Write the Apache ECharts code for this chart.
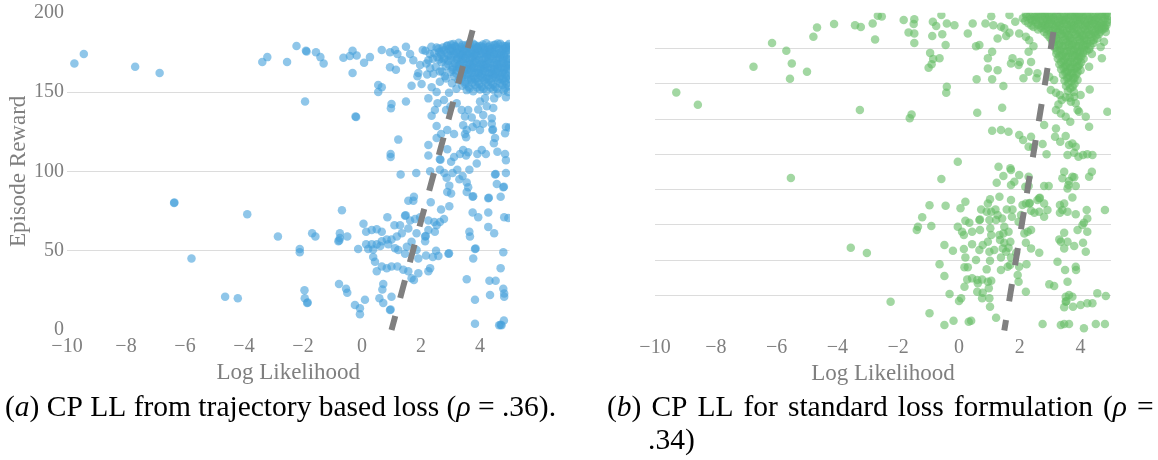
<!DOCTYPE html>
<html>
<head>
<meta charset="utf-8">
<script src="https://cdn.jsdelivr.net/npm/echarts@6/dist/echarts.min.js"></script>
<style>
html,body{margin:0;padding:0;background:#fff;}
#c{width:1158px;height:460px;}
</style>
</head>
<body>
<div id="c"></div>
<script>
// ---------- axis settings ----------
const xRange = [-10, 5];
const xStep = 2;
const leftYRange = [0, 200];
const leftYStep = 50;
const rightYRange = [0, 180];
const rightYStep = 20;
const xAxisTitle = 'Log Likelihood';
const yAxisTitle = 'Episode Reward';
const captionA = '({i|a}) CP LL from trajectory based loss ({i|ρ} = .36).';
const captionBWords = ['({i|b})', 'CP', 'LL', 'for', 'standard', 'loss', 'formulation', '({i|ρ}', '='];
const captionBLine2 = '.34)';

// ---------- (a) trajectory based loss: [log likelihood, episode reward] ----------
const trajOutliers = [
[-9.75,168],[-9.43,174],[-7.69,166],[-6.86,162],[-3.38,169],[-3.21,172],[-2.54,169],[-2.22,179],[-1.9,176],[-1.88,175.6],[-1.56,175],[-1.41,172],[-1.3,168],[-1.93,144],
[-6.37,80],[-6.36,80.3],[-5.78,45],[-4.64,21],[-4.21,20],[-3.89,73],[-2.85,59],[-2.11,51],[-2.11,49],[-1.95,25],[-1.94,20],[-1.86,17],[-1.84,17.4],[-1.69,61],[-1.58,59],[-0.8,56],[-0.77,56.4],[-0.78,29],[-0.68,75.5]
];
const trajUpper = [
[-0.63,171.6],[-0.41,172.7],[-0.32,176],[-0.18,173],[0.07,168.5],[0.27,172],[-0.32,162],[0.67,176.5],[0.95,175],[1.12,176.5],[1.2,174],[1.49,178.6],[1.35,170],[1.63,174],[1.74,170],[0.95,165.6],[1.15,164],[0.55,154.4],[0.67,153],[0.55,150],[1.49,144],[1.68,154],[2.02,155],[1.91,162],[1.88,160],[2.21,161],[2.31,165],[1.97,167],[2.25,170],[2.06,176.5],[2.3,174],[2.53,178],[2.7,175.5],[2.87,179],[2.36,153],[2.53,150],[2.25,146],[2.56,143],[2.78,145],[2.64,156.5],[2.81,160],[2.64,163],[2.47,138.7],[2.36,135],[2.53,128.6],[2.68,123.5],[2.89,126],[3.12,123.5],[2.85,138.7],[3.0,140.8],[3.21,143],[3.38,138.7],[3.49,134.5],[3.72,134],[3.6,138.7],[3.94,139],[4.0,144],[4.17,146],[4.23,141],[4.11,135.5],[4.4,133.4],[4.4,130],[4.45,140],[4.48,146],[4.88,146.7],[3.43,129],[3.55,126],[3.49,123.5],[3.53,121.5],[3.75,128],[3.89,130],[4.0,126],[4.11,130],[4.42,126],[4.44,126.4],[4.51,121],[4.47,117.7],[4.88,128],[4.85,124],[4.98,127.6],[2.53,121],[2.25,116.6],[2.25,110],[2.64,107.6],[2.66,107.3],[2.89,114],[3.12,109],[3.32,111],[3.53,110],[3.43,113.5],[3.6,112],[3.91,111],[4.06,113.5],[4.2,111],[4.59,112.4],[4.85,111],[4.88,107],[3.64,101],[3.89,105],[2.64,101],[3.23,101],[3.02,106],[1.0,142.5],[1.23,120],[0.97,111],[0.97,109],[-0.22,134.5],[-0.2,134.2],[0.98,139.7],
[2.15,176],[2.35,178.5],[2.45,174.5],[2.6,177.5],[2.4,171],[2.62,170.5],[2.18,168],[2.5,166],[2.72,163],[2.42,161.5],[2.85,158.5],[3.05,155.5],[3.2,152],[2.95,149.5],[4.62,149],[4.8,151],[4.95,150]
];
const trajLower = [
[1.31,98],[1.84,99],[2.31,100],[2.79,99],[2.87,96],[3.07,99],[3.3,95],[3.41,97],[3.55,93],[3.6,90],[2.96,91],[2.89,87],[3.02,86],[3.55,87],[3.75,84],[3.77,84.3],[4.28,83],[4.3,83.3],[4.51,98],[4.53,98.3],[4.88,99],[4.57,92],[4.79,90],[4.81,90.3],[4.7,84],[3.75,74],[3.94,71],[4.28,74],[4.82,71],[4.28,65],[4.48,61],[3.64,62],[3.66,59],[3.83,51],[3.85,51.3],[3.77,45],[4.79,49],[4.7,39],[3.55,32],[4.32,31],[4.53,31],[4.79,26],[4.82,23],[4.82,21],[4.34,22],[3.83,19],[4.81,6],[4.65,3],[4.7,3.3],[4.73,3],[3.83,4],[4.96,70.6],
[0.05,67],[0.14,62],[0.33,63],[0.5,63.5],[0.67,62],[0.86,71],[1.1,66],[1.29,66],[1.46,72],[1.48,72.3],[1.57,81.5],[1.76,84],[1.74,81.5],[2.33,80.5],[1.63,69],[1.8,70],[1.97,71],[2.25,69],[2.45,68],[2.64,68],[2.68,76],[2.96,78],[2.78,70],[2.53,66],[2.25,63],[2.47,62],[2.14,59],[2.16,59.3],[2.14,56],[1.85,61],[1.57,64],[1.35,61],[1.18,59],[1.0,57],[0.84,57],[0.67,56],[0.5,54],[0.33,54],[0.14,54],[-0.13,51],[0.21,51],[0.38,50.8],[0.62,53],[0.89,54],[1.12,51.5],[1.23,50.4],[1.46,48],[1.52,52.5],[1.68,55.6],[1.85,50.4],[1.91,45],[2.17,47],[2.4,46],[2.59,46.6],[2.93,48],[2.95,48.3],[2.51,50],[2.31,39],[2.25,37],[1.2,40],[1.0,40],[0.84,39],[0.67,40],[0.5,37],[0.44,43],[0.38,46],[1.4,38],[1.57,37],[1.68,32.6],[1.91,35.7],[1.76,31.5],[0.72,29],[0.69,25.6],[0.59,20],[0.72,17],[1.0,21],[0.95,12.6],[0.97,12.9],[-0.24,15.8],[-0.07,13.7],[-0.07,10],[0.1,19],[-0.54,26],[-0.5,23.5],[-0.75,61],[-0.75,58],[-0.5,59]
];
const trajCore = [
[3.02,180],[3.28,181],[3.51,179.5],[3.77,180.5],[3.96,179],[4.21,180.7],[4.47,179.6],[4.69,180.4],[4.93,179.2],
[2.74,178],[2.95,177.2],[3.18,178.4],[3.4,177],[3.63,178.3],[3.86,177.4],[4.1,178.1],[4.33,176.9],[4.56,178],[4.8,177.3],[4.99,178.2],
[2.62,175.3],[2.88,174.6],[3.09,175.8],[3.31,174.2],[3.52,175.5],[3.74,174.7],[3.98,175.9],[4.19,174.3],[4.42,175.4],[4.64,174.5],[4.87,175.7],
[2.55,172],[2.79,171.3],[3.01,172.6],[3.22,171],[3.46,172.4],[3.68,171.5],[3.9,172.8],[4.13,171.2],[4.37,172.5],[4.58,171.4],[4.82,172.3],[4.97,171],
[2.7,168.7],[2.93,169.5],[3.14,168.2],[3.37,169.8],[3.6,168.5],[3.82,169.3],[4.05,168],[4.27,169.6],[4.5,168.4],[4.73,169.1],[4.95,168.6],
[2.85,166.2],[3.07,165.4],[3.29,166.7],[3.5,165.1],[3.73,166.3],[3.95,165.6],[4.18,166.8],[4.4,165.2],[4.62,166.4],[4.86,165.5],
[3.0,162.7],[3.21,163.6],[3.43,162.3],[3.66,163.8],[3.88,162.5],[4.1,163.4],[4.33,162.1],[4.55,163.2],[4.78,162.6],[4.98,163.5],
[3.12,160],[3.34,159.3],[3.56,160.6],[3.79,159.4],[4.01,160.3],[4.24,159.1],[4.46,160.5],[4.69,159.6],[4.92,160.2],
[3.27,157.2],[3.49,156.4],[3.71,157.6],[3.93,156.5],[4.15,157.3],[4.38,156.2],[4.6,157.1],[4.84,156.6],
[3.4,154],[3.62,153.3],[3.84,154.6],[4.06,153.4],[4.28,154.2],[4.52,153.1],[4.76,154.4],[4.97,153.6],
[3.55,151.2],[3.77,150.5],[4.0,151.6],[4.22,150.7],[4.45,151.4],
[3.15,179],[3.4,179.7],[3.65,180.8],[3.88,178.6],[4.1,180],[4.34,179.3],[4.6,180.6],[4.85,178.8],
[3.0,176],[3.25,176.8],[3.45,175.9],[3.7,176.6],[3.92,176.2],[4.15,176.7],[4.3,175.6],[4.52,176.4],[4.76,175.8],[4.95,176.5],
[3.12,173.5],[3.35,173],[3.58,173.6],[3.8,173.1],[4.02,173.8],[4.25,173.2],[4.48,173.9],[4.7,173.3],[4.9,173.7],
[3.2,170.2],[3.42,170.8],[3.65,170.1],[3.86,170.7],[4.08,170.3],[4.3,170.9],[4.55,170.2],[4.78,170.6],
[3.32,167.5],[3.55,167.1],[3.77,167.8],[4.0,167.3],[4.22,167.6],[4.45,167],[4.68,167.7],[4.9,167.2],
[3.45,164.4],[3.7,164.8],[3.92,164.2],[4.14,164.9],[4.36,164.4],[4.6,164.7],[4.82,164.1],
[3.6,161.5],[3.83,161.9],[4.06,161.3],[4.29,161.8],[4.52,161.4],[4.75,161.8],
[3.7,158.5],[3.95,158.8],[4.2,158.2],[4.42,158.7],[4.65,158.4],[4.88,158.8],
[2.9,179.3],[3.1,180.2],[3.36,178.2],[3.58,179.2],[3.83,179.6],[4.05,178.9],[4.28,178.4],[4.52,179.8],[4.76,179.1],[4.98,180.3],
[2.78,176.3],[3.05,177.6],[3.21,175.2],[3.48,176.8],[3.69,175.3],[3.92,177.8],[4.16,175.3],[4.4,177.4],[4.66,176.9],[4.88,177.8],
[2.68,173.6],[2.93,173],[3.18,174.4],[3.42,173.4],[3.64,174.5],[3.86,173.9],[4.1,174.6],[4.34,173.6],[4.57,174],[4.82,173.4],
[2.76,170.6],[3.02,170.3],[3.28,171.8],[3.52,170.9],[3.74,171.8],[3.97,170.2],[4.2,171.6],[4.44,170.7],[4.66,171.6],[4.92,170.5],
[2.93,167.4],[3.2,166.2],[3.44,167.9],[3.66,167.4],[3.88,168.4],[4.12,166.5],[4.34,168.1],[4.58,167.2],[4.8,168.1],[4.99,166.7],
[3.07,164],[3.32,164.8],[3.56,164.1],[3.8,165.2],[4.02,164.5],[4.26,165.5],[4.49,164.3],[4.71,165.3],[4.95,164.8],
[3.2,161.7],[3.47,161],[3.72,162.4],[3.96,161.8],[4.18,162.6],[4.4,161.4],[4.63,162.3],[4.86,161.3],
[3.38,158.7],[3.6,157.9],[3.84,158.1],[4.08,159.1],[4.31,157.9],[4.54,159.2],[4.78,157.9],[4.98,158.3],
[3.5,155.1],[3.74,155.8],[3.97,155],[4.2,155.9],[4.44,154.8],[4.68,155.6],[4.9,155.2],
[3.64,152.3],[3.9,152.8],[4.12,152.1],[4.36,152.7],[4.58,152.2],[4.85,152.4]
];
const trajFit = [[1.0, 0], [3.91, 200]];

// ---------- (b) standard loss: [log likelihood, episode reward] ----------
const stdOutliers = [
[-9.3,135],[-8.59,128],[-6.76,149.5],[-6.15,163],[-5.68,158.6],[-5.5,151.4],[-5.56,142.7],[-5.0,146.7],[-4.79,166.5],[-4.67,171.8],[-4.11,173.7],[-3.42,173],[-3.23,172],[-2.84,174],[-2.76,165],[-2.67,178.4],[-2.54,178],[-3.26,125],[-5.53,86.5],[-1.82,176],[-1.47,176.5],[-1.49,173.7],[-1.66,169],[-1.47,168.4],[-1.47,163],[-1.56,122.5],[-1.62,120.3],[-1.0,149],[-0.95,157.4],[-0.9,151],[-0.85,154],[-3.56,47],[-3.03,44],[-2.25,16.4],[-1.39,57],[-1.21,64.2],[-1.35,58.9]
];
const stdUpper = [
[-0.58,178.8],[-0.86,175],[-0.75,172.6],[-0.4,174],[-0.15,173],[-0.55,168],[-0.88,166.9],[-0.44,161.8],[-0.64,154.3],[-0.4,138.2],[-0.42,134.8],[0.29,168.4],[0.45,174],[0.87,174],[1.13,173],[1.06,178.2],[0.56,161.2],[0.67,161.8],[0.95,154.3],[1.09,158],[1.27,147.6],[0.95,148.6],[1.09,142.5],[0.58,142.5],[1.46,138.6],[1.42,126.3],[0.6,123.4],[-0.04,95.7],[1.3,92.8],[1.69,92],[1.09,113.3],[1.38,113.7],[1.63,112.7],[1.98,110.8],[2.11,108],[2.37,109.9],[2.29,104.2],[2.44,103.8],[2.75,105.7],[2.88,100],[2.8,116.5],[3.19,114.6],[3.16,109.9],[3.33,107],[3.51,110.3],[3.62,105.2],[3.57,99.5],[3.79,100.8],[3.84,104.2],[3.93,98.5],[4.08,99.5],[4.22,100],[4.39,99.5],[3.73,106],[4.28,115.5],[4.17,121.2],[3.95,124],[3.66,118.4],[3.51,121.2],[3.35,123.1],[3.19,125],[3.27,128.2],[3.38,130.7],[3.68,129.7],[3.84,128.8],[3.9,125],[3.19,134.8],[3.32,133.5],[3.51,132.2],[3.79,132.5],[4.0,133.5],[4.3,136.7],[3.02,136.3],[3.13,142],[2.97,143.9],[2.58,145.8],[2.55,143],[2.29,146.7],[2.12,143],[1.96,150.5],[2.0,152.3],[2.37,152.3],[1.76,154.3],[1.71,151.4],[2.29,158],[2.45,161.2],[2.31,164.6],[2.2,166.5],[1.98,168.4],[1.66,168.8],[1.49,171.3],[1.38,172.2],[1.85,175],[1.66,178.8],[1.55,166.9],[1.27,165.6],
[4.8,171.3],[4.7,154.3],[4.66,160.8],[4.77,163.7],[4.83,169.3],[4.88,124],[4.37,156.7],[4.28,149.5]
];
const stdLower = [
[-0.58,85.9],[-0.97,71],[-0.91,59.3],[-0.44,70.8],[0.05,69.3],[0.21,73],[-0.04,58.9],[0.1,56],[0.16,54.2],[0.21,62.3],[0.34,61.1],[0.43,56],[0.43,49],[0.67,62.7],[0.69,63],[0.69,57],[0.73,68.7],[0.95,72],[1.02,74.4],[0.91,67.4],[1.06,67.4],[1.2,68.7],[1.33,75.9],[1.22,62.7],[1.42,63.6],[1.49,58.9],[1.03,58],[1.06,54.2],[1.63,56],[1.69,50.4],[1.35,51.3],[1.44,46.6],[1.16,45.7],[0.95,50.4],[0.78,48.5],[0.67,45.7],[1.0,44.7],[1.02,39.6],[0.91,34.7],[0.56,40],[0.16,46.2],[0.21,41.5],[-0.2,45.3],[-0.48,48.5],[-0.64,37.6],[-0.48,30.9],[0.18,35.9],[0.29,35.9],[0.27,29],[0.43,29.6],[0.6,28.7],[0.76,29],[0.95,27.7],[0.62,26.8],[0.18,24.9],[0.6,22],[0.78,21.5],[1.06,28.3],[0.98,24],[0.76,18.3],[1.0,18.3],[1.02,13.5],[1.22,7.3],[0.4,5.6],[0.32,5],[-0.18,5.6],[-0.48,3.2],[-0.97,9.8],[-0.31,20.7],[0.07,18.3],[0.0,16.8],[1.38,34.3],[1.6,36.2],[1.68,37.2],[1.93,31.5],[1.98,36.2],[1.96,27.7],[2.2,22],[2.22,37.6],[1.88,44.1],[1.71,41.5],[1.38,41.5],[1.49,49.8],[1.63,47],[1.55,44.7],[1.33,54.2],[1.46,55.1],[1.0,62.7],[1.27,65.5],[1.57,68.7],[1.76,68.7],[1.71,74],[1.74,64.5],[1.96,61.7],[2.09,71.2],[2.04,65.5],[2.37,67.9],[2.2,72.1],[2.31,72],[2.33,72.3],[2.15,55.1],[2.26,56],[2.37,57],[2.37,46.6],[2.2,49.8],[2.64,44.1],[2.58,74],[2.64,75],[2.66,75.3],[2.8,72.1],[2.91,68.3],[2.8,64.5],[2.64,67.4],[2.48,66.8],[2.8,81.9],[2.95,81.9],[3.32,71.2],[3.46,72.1],[3.4,68.3],[3.57,67.4],[3.32,66.8],[3.84,65.9],[3.73,75.5],[3.57,80.6],[3.62,84.8],[3.6,82.5],[3.84,81.9],[3.79,86.9],[3.46,90],[4.37,90],[4.28,87.2],[4.2,68.3],[4.22,63.6],[4.11,61.1],[4.06,59.8],[3.9,57],[4.22,56],[4.08,49.8],[4.17,44.7],[3.79,47.9],[3.46,55.5],[3.3,51.7],[3.35,50.4],[3.57,50.4],[3.46,46.6],[3.24,39],[3.49,34.3],[3.84,36.2],[3.85,34.3],[3.57,27.7],[2.97,26.2],[3.13,25.3],[3.51,19.2],[3.62,20.2],[3.73,19.2],[3.51,16.4],[3.53,16.7],[3.46,13.2],[3.75,13.5],[4.0,14.5],[4.22,15.5],[4.39,15.5],[4.55,21.1],[4.83,19.6],[4.8,68.3],[2.75,3.7],[3.35,3.2],[3.46,3.7],[3.62,3.7],[4.11,1.3],[4.5,3.7],[4.8,3.7],[1.71,82.5],[1.82,84.4],[1.98,88.2],[2.29,87.2],[2.18,81.5],[2.29,82],[1.24,83.8],[1.46,87.6],[1.71,91],[3.4,86.3],[3.73,87.2]
];
const stdCore = [
[2.2,179.5],[2.45,179],[2.7,179.8],[2.95,179.2],[3.2,179.9],[3.45,179.1],[3.7,179.7],[3.95,179.3],[4.2,179.8],[4.45,179.2],[4.7,179.6],
[2.1,177],[2.35,176.6],[2.6,177.4],[2.85,176.8],[3.1,177.3],[3.33,176.5],[3.58,177.2],[3.82,176.7],[4.07,177.4],[4.3,176.6],[4.55,177.1],[4.8,176.8],
[2.28,174.2],[2.52,174.8],[2.76,174.1],[3.0,174.9],[3.24,174.3],[3.48,174.7],[3.72,174],[3.96,174.8],[4.2,174.2],[4.44,174.6],[4.66,174.1],[4.88,174.7],
[2.45,172],[2.7,171.5],[2.92,172.3],[3.15,171.6],[3.38,172.2],[3.62,171.4],[3.86,172.1],[4.1,171.7],[4.34,172.3],[4.56,171.5],[4.78,172],
[2.8,169.2],[3.02,168.6],[3.26,169.4],[3.5,168.7],[3.74,169.3],[3.98,168.5],[4.22,169.1],[4.46,168.8],[4.65,169.4],
[2.98,166.3],[3.2,165.7],[3.43,166.5],[3.66,165.8],[3.9,166.4],[4.13,165.6],[4.36,166.2],[4.55,165.5],
[3.08,163.2],[3.3,162.6],[3.53,163.4],[3.76,162.7],[3.99,163.3],[4.22,162.5],[4.42,163],
[3.15,160.3],[3.37,159.6],[3.6,160.4],[3.83,159.7],[4.05,160.2],[4.28,159.5],
[3.2,157.1],[3.42,156.5],[3.64,157.3],[3.87,156.6],[4.08,157.2],
[3.25,154.2],[3.48,153.5],[3.7,154.3],[3.92,153.6],[4.1,154.1],
[3.3,151],[3.52,150.4],[3.74,151.2],[3.96,150.5],
[3.36,148.1],[3.58,147.4],[3.8,148.2],[4.0,147.6],
[3.42,145],[3.64,144.4],[3.86,145.2],
[3.47,141.8],[3.7,141.3],[3.9,142],
[3.52,138.6],[3.74,138.2],
[3.58,135.8],[3.78,135.3],
[3.64,132],
[2.33,178.3],[2.58,178.6],[2.83,178.1],[3.07,178.5],[3.32,178.2],[3.57,178.7],[3.82,178.3],[4.07,178.6],[4.32,178.1],[4.58,178.5],[4.82,178.9],
[2.4,175.8],[2.65,175.5],[2.9,176],[3.14,175.6],[3.4,175.9],[3.63,175.4],[3.88,175.9],[4.12,175.5],[4.37,175.8],[4.6,175.4],[4.9,176],
[2.6,173.3],[2.84,173],[3.08,173.5],[3.3,173.1],[3.55,173.4],[3.78,173],[4.02,173.4],[4.26,173],[4.5,173.3],[4.72,173],
[2.95,170.4],[3.18,170.8],[3.42,170.2],[3.65,170.7],[3.9,170.3],[4.14,170.6],[4.38,170.1],[4.6,170.5],
[3.1,167.6],[3.35,167.9],[3.58,167.4],[3.82,167.8],[4.05,167.2],[4.28,167.7],[4.5,167.3],
[3.2,164.7],[3.43,164.3],[3.66,164.8],[3.9,164.2],[4.12,164.6],[4.34,164.1],
[3.28,161.7],[3.5,161.4],[3.72,161.9],[3.94,161.2],[4.16,161.6],
[3.32,158.7],[3.55,158.3],[3.77,158.8],[3.98,158.2],[4.2,158.6],
[3.38,155.7],[3.6,155.3],[3.82,155.8],[4.02,155.4],
[3.44,152.6],[3.66,152.2],[3.88,152.7],
[3.5,149.6],[3.7,149.3],[3.92,149.8],
[3.55,146.5],[3.76,146.2],
[3.6,143.4],[3.8,143.1],
[2.32,180.2],[2.58,180.3],[2.83,180],[3.08,180.4],[3.33,180.1],[3.58,180.3],[3.83,180],[4.08,180.4],[4.33,180.1],[4.58,180.2],[4.85,179.9],
[2.22,178],[2.47,177.8],[2.72,178.3],[2.97,177.7],[3.22,178.6],[3.45,177.9],[3.7,178.4],[3.95,177.8],[4.2,178.3],[4.44,177.7],[4.7,178.1],[4.93,178.4],
[2.18,175.4],[2.52,176.2],[2.77,175.6],[3.02,176.2],[3.27,175.3],[3.52,176],[3.76,175.2],[4.0,176.1],[4.25,175.4],[4.48,176],[4.74,175.3],
[2.38,172.9],[2.72,172.6],[2.96,173.6],[3.2,172.7],[3.45,173.7],[3.68,172.8],[3.92,173.5],[4.16,172.9],[4.4,173.6],[4.62,172.7],[4.85,173.1],
[2.6,170.6],[2.85,170.9],[3.08,170],[3.32,170.5],[3.55,169.9],[3.78,170.9],[4.02,169.8],[4.26,170.5],[4.5,169.9],[4.72,170.7],
[2.9,167.8],[3.15,167],[3.38,168.2],[3.62,167],[3.86,168.1],[4.1,167.1],[4.33,168],[4.6,167.9],
[3.05,164.9],[3.26,164],[3.5,165],[3.74,164],[3.97,165.1],[4.2,164.1],[4.43,164.7],
[3.12,161.6],[3.4,161],[3.62,162.1],[3.86,161.1],[4.08,161.9],[4.32,161.2],
[3.22,158.4],[3.46,157.8],[3.68,158.9],[3.9,157.9],[4.12,158.7],
[3.3,155.6],[3.52,155.1],[3.74,156],[3.96,155],
[3.36,152.1],[3.58,151.7],[3.8,152.4],[4.02,151.9],
[3.44,149],[3.66,148.6],[3.87,149.3],
[3.5,146.3],[3.7,145.9],[3.9,146.5],
[3.56,143],[3.76,142.7],
[3.6,140],[3.8,139.7],
[3.66,137.2]
];
const stdFit = [[1.49, 0], [3.21, 180]];

// ---------- chart ----------
const blue = 'rgb(69,160,218)';
const green = 'rgb(100,188,100)';
const gray = '#7f7f7f';
const serif = 'Liberation Serif';
const captionSize = 29.5;

const trajAll = trajOutliers.concat(trajUpper, trajLower, trajCore);
const stdAll = stdOutliers.concat(stdUpper, stdLower, stdCore);

function fmtX(v) { return v < 0 ? '\u2212' + Math.abs(v) : String(v); }

function xAxisCfg(gi) {
  return {
    type: 'value', gridIndex: gi, min: xRange[0], max: xRange[1], interval: xStep,
    name: xAxisTitle, nameLocation: 'middle', nameGap: 29,
    nameTextStyle: { fontFamily: serif, fontSize: 23, color: gray },
    axisLine: { show: false }, axisTick: { show: false }, splitLine: { show: false },
    axisLabel: { fontFamily: serif, fontSize: 20, color: gray, margin: 7, showMaxLabel: false, formatter: fmtX }
  };
}
function yAxisCfg(gi, range, step, showLabels) {
  const cfg = {
    type: 'value', gridIndex: gi, min: range[0], max: range[1], interval: step,
    axisLine: { show: false }, axisTick: { show: false },
    splitLine: { show: true, showMinLine: false, showMaxLine: false, lineStyle: { color: '#dcdcdc', width: 1 } },
    axisLabel: { show: showLabels, fontFamily: serif, fontSize: 20, color: gray, margin: 3, padding: [4, 0, 0, 0] }
  };
  if (showLabels) {
    cfg.name = yAxisTitle; cfg.nameLocation = 'middle'; cfg.nameGap = 37;
    cfg.nameTextStyle = { fontFamily: serif, fontSize: 23, color: gray };
  }
  return cfg;
}
function captionB() {
  return captionBWords.join('{s| }');
}
const italicRich = { fontFamily: serif, fontSize: captionSize, fontStyle: 'italic', fill: '#000' };

const chart = echarts.init(document.getElementById('c'), null, { renderer: 'canvas' });
chart.setOption({
  animation: false,
  backgroundColor: '#fff',
  grid: [
    { left: 67, right: 648.5, top: 12.7, bottom: 130 },
    { left: 655, right: 47, top: 13, bottom: 129.4 }
  ],
  xAxis: [xAxisCfg(0), xAxisCfg(1)],
  yAxis: [yAxisCfg(0, leftYRange, leftYStep, true), yAxisCfg(1, rightYRange, rightYStep, false)],
  series: [
    { type: 'scatter', xAxisIndex: 0, yAxisIndex: 0, data: trajAll, symbolSize: 8.5,
      itemStyle: { color: blue, opacity: 0.6 }, z: 2 },
    { type: 'line', xAxisIndex: 0, yAxisIndex: 0, data: trajFit, symbol: 'none', clip: true, z: 5,
      lineStyle: { color: '#808080', width: 6, type: [18.3, 18.7], dashOffset: 3.8, cap: 'butt' } },
    { type: 'scatter', xAxisIndex: 1, yAxisIndex: 1, data: stdAll, symbolSize: 8.5,
      itemStyle: { color: green, opacity: 0.6 }, z: 2 },
    { type: 'line', xAxisIndex: 1, yAxisIndex: 1, data: stdFit, symbol: 'none', clip: true, z: 5,
      lineStyle: { color: '#808080', width: 6, type: [17.5, 19], dashOffset: 6.8, cap: 'butt' } }
  ],
  graphic: [
    // white masks that clip marks overflowing the plot areas
    { type: 'rect', z: 100, shape: { x: 510, y: 0, width: 135, height: 332 }, style: { fill: '#fff' }, silent: true },
    { type: 'rect', z: 100, shape: { x: 1111, y: 0, width: 47, height: 332 }, style: { fill: '#fff' }, silent: true },
    { type: 'rect', z: 100, shape: { x: 645, y: 0, width: 470, height: 12.8 }, style: { fill: '#fff' }, silent: true },
    { type: 'text', z: 101, x: 5, y: 408, style: {
        text: captionA, fill: '#000', fontFamily: serif, fontSize: captionSize, verticalAlign: 'middle', align: 'left',
        rich: { i: italicRich } } },
    { type: 'text', z: 101, x: 607, y: 408, style: {
        text: captionB(), fill: '#000', fontFamily: serif, fontSize: captionSize, verticalAlign: 'middle', align: 'left',
        rich: { i: italicRich, s: { fontFamily: serif, fontSize: captionSize, width: 10 } } } },
    { type: 'text', z: 101, x: 648, y: 441, style: {
        text: captionBLine2, fill: '#000', fontFamily: serif, fontSize: captionSize, verticalAlign: 'middle', align: 'left' } }
  ]
});
</script>
</body>
</html>
